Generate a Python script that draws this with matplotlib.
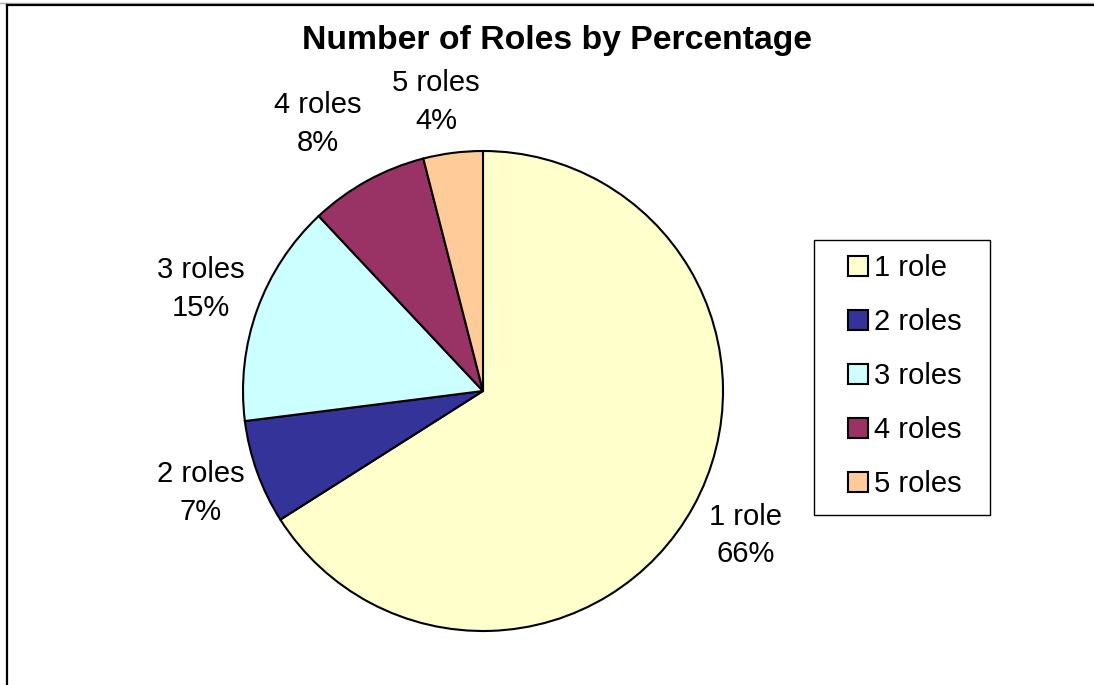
import matplotlib
matplotlib.use('Agg')
import numpy as np
import matplotlib.pyplot as plt
from matplotlib.patches import Patch, Rectangle
from matplotlib.lines import Line2D

# role counts as share of all people
role_names = ['1 role', '2 roles', '3 roles', '4 roles', '5 roles']
role_pct = [66, 7, 15, 8, 4]
role_colors = ['#FFFFCC', '#333399', '#CCFFFF', '#993366', '#FFCC99']

plt.rcParams['font.family'] = ['Liberation Sans', 'DejaVu Sans']

W, H = 1094, 685
fig = plt.figure(figsize=(W / 100, H / 100), dpi=100)

# chart border (open on right and bottom)
fig.add_artist(Line2D([0, 1], [1 - 2.5 / H, 1 - 2.5 / H], color='#b0b0b0', lw=1.0))
fig.add_artist(Line2D([7 / W, 1], [1 - 4.5 / H, 1 - 4.5 / H], color='black', lw=1.6))
fig.add_artist(Line2D([7 / W, 7 / W], [0, 1 - 4.5 / H], color='black', lw=1.6))

# pie centred at (483, 391) px, radius 240 px
cx, cy, r = 483, 391, 240
ax = fig.add_axes([(cx - r) / W, (H - cy - r) / H, 2 * r / W, 2 * r / H])
labels = [f'{n}\n{p}%' for n, p in zip(role_names, role_pct)]
wedges, texts = ax.pie(role_pct, colors=role_colors, startangle=90, counterclock=False,
                       labels=labels, labeldistance=1.25, radius=1,
                       wedgeprops=dict(edgecolor='black', linewidth=1.5),
                       textprops=dict(fontsize=21, linespacing=1.45))
for t in texts:
    t.set_horizontalalignment('center')
    t.set_verticalalignment('center')
# small label nudges so the top labels don't crowd each other
nudge = {3: (1.31, 3.0), 4: (1.22, 2.0)}
for i, (dist, dang) in nudge.items():
    w = wedges[i]
    ang = np.deg2rad((w.theta1 + w.theta2) / 2 + dang)
    texts[i].set_position((dist * np.cos(ang), dist * np.sin(ang)))
ax.set_xlim(-1, 1)
ax.set_ylim(-1, 1)
ax.set_aspect('auto')
ax.axis('off')

fig.text(557 / W, 1 - 40 / H, 'Number of Roles by Percentage', ha='center', va='center',
         fontsize=24.3, fontweight='bold')

# legend box
fig.add_artist(Rectangle((814 / W, 1 - 515 / H), (990 - 814) / W, (515 - 240) / H,
                         transform=fig.transFigure, fill=False, edgecolor='black', lw=1.0))
handles = [Patch(facecolor=c, edgecolor='black', linewidth=1.5) for c in role_colors]
fig.legend(handles, role_names, loc='upper left', bbox_to_anchor=(848 / W, 1 - 254 / H),
           frameon=False, fontsize=21, borderpad=0, borderaxespad=0,
           handlelength=0.69, handleheight=0.69, handletextpad=0.2, labelspacing=0.89)

fig.savefig('out.png', dpi=100)
